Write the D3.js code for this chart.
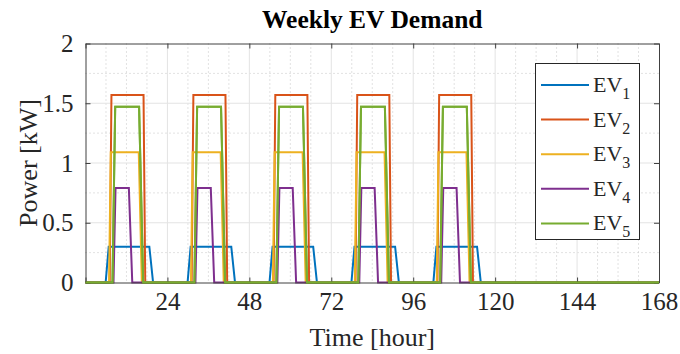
<!DOCTYPE html>
<html lang="en">
<head>
  <meta charset="UTF-8">
  <title>Weekly EV Demand</title>
  <script src="https://d3js.org/d3.v7.min.js"></script>
  <style>
    body { margin: 0; background: #fff; }
    text { font-family: "Liberation Serif", "Times New Roman", serif; fill: #262626; }
  </style>
</head>
<body>
<div class="main"></div>
<script>
  // hours and power [kW] for each EV
  var ev1Time  = [0, 5.9, 6.8, 18.7, 19.8, 29.9, 30.8, 42.7, 43.8, 53.9, 54.8, 66.7, 67.8, 77.9, 78.8, 90.7, 91.8, 101.9, 102.8, 114.7, 115.8, 168];
  var ev1Power = [0, 0, 0.3, 0.3, 0, 0, 0.3, 0.3, 0, 0, 0.3, 0.3, 0, 0, 0.3, 0.3, 0, 0, 0.3, 0.3, 0, 0];
  var ev2Time  = [0, 7.1, 7.6, 17.0, 17.5, 31.1, 31.6, 41.0, 41.5, 55.1, 55.6, 65.0, 65.5, 79.1, 79.6, 89.0, 89.5, 103.1, 103.6, 113.0, 113.5, 168];
  var ev2Power = [0, 0, 1.57, 1.57, 0, 0, 1.57, 1.57, 0, 0, 1.57, 1.57, 0, 0, 1.57, 1.57, 0, 0, 1.57, 1.57, 0, 0];
  var ev3Time  = [0, 6.9, 7.4, 15.6, 16.5, 30.9, 31.4, 39.6, 40.5, 54.9, 55.4, 63.6, 64.5, 78.9, 79.4, 87.6, 88.5, 102.9, 103.4, 111.6, 112.5, 168];
  var ev3Power = [0, 0, 1.09, 1.09, 0, 0, 1.09, 1.09, 0, 0, 1.09, 1.09, 0, 0, 1.09, 1.09, 0, 0, 1.09, 1.09, 0, 0];
  var ev4Time  = [0, 8.2, 8.8, 12.7, 13.7, 32.2, 32.8, 36.7, 37.7, 56.2, 56.8, 60.7, 61.7, 80.2, 80.8, 84.7, 85.7, 104.2, 104.8, 108.7, 109.7, 168];
  var ev4Power = [0, 0, 0.79, 0.79, 0, 0, 0.79, 0.79, 0, 0, 0.79, 0.79, 0, 0, 0.79, 0.79, 0, 0, 0.79, 0.79, 0, 0];
  var ev5Time  = [0, 7.9, 8.7, 15.7, 16.9, 31.9, 32.7, 39.7, 40.9, 55.9, 56.7, 63.7, 64.9, 79.9, 80.7, 87.7, 88.9, 103.9, 104.7, 111.7, 112.9, 168];
  var ev5Power = [0, 0, 1.47, 1.47, 0, 0, 1.47, 1.47, 0, 0, 1.47, 1.47, 0, 0, 1.47, 1.47, 0, 0, 1.47, 1.47, 0, 0];

  var seriesNames = ["1", "2", "3", "4", "5"];
  var colors = ["#0072BD", "#D95319", "#EDB120", "#7E2F8E", "#77AC30"];
  var xTicks = [0, 24, 48, 72, 96, 120, 144, 168];
  var xTickLabels = ["", "24", "48", "72", "96", "120", "144", "168"];
  var xMinor = [6, 12, 18, 30, 36, 42, 54, 60, 66, 78, 84, 90, 102, 108, 114, 126, 132, 138, 150, 156, 162];
  var yTicks = [0, 0.5, 1, 1.5, 2];
  var yTickLabels = ["0", "0.5", "1", "1.5", "2"];
  var yMinor = [0.25, 0.75, 1.25, 1.75];

  var allTimes = [ev1Time, ev2Time, ev3Time, ev4Time, ev5Time];
  var allPower = [ev1Power, ev2Power, ev3Power, ev4Power, ev5Power];

  let width = 680;
  let height = 354;
  let pLeft = 85.5, pRight = 659, pTop = 43.5, pBottom = 282.5;

  let svg = d3.select(".main").append("svg").attr("width", width).attr("height", height).style("display", "block");

  let x = d3.scaleLinear().domain([0, 168]).range([pLeft, pRight]);
  let y = d3.scaleLinear().domain([0, 2]).range([pBottom, pTop]);

  // minor grid (dotted)
  svg.selectAll(".xminor").data(xMinor).enter().append("line")
    .attr("x1", d => x(d)).attr("x2", d => x(d)).attr("y1", pTop).attr("y2", pBottom)
    .style("stroke", "#c4c4c4").style("stroke-width", 1).style("stroke-dasharray", "1,3");
  svg.selectAll(".yminor").data(yMinor).enter().append("line")
    .attr("x1", pLeft).attr("x2", pRight).attr("y1", d => y(d)).attr("y2", d => y(d))
    .style("stroke", "#c4c4c4").style("stroke-width", 1).style("stroke-dasharray", "1,3");

  // major grid
  svg.selectAll(".xgrid").data(xTicks.slice(1, -1)).enter().append("line")
    .attr("x1", d => x(d)).attr("x2", d => x(d)).attr("y1", pTop).attr("y2", pBottom)
    .style("stroke", "#e3e3e3").style("stroke-width", 1);
  svg.selectAll(".ygrid").data(yTicks.slice(1, -1)).enter().append("line")
    .attr("x1", pLeft).attr("x2", pRight).attr("y1", d => y(d)).attr("y2", d => y(d))
    .style("stroke", "#e3e3e3").style("stroke-width", 1);

  // data lines
  let lineGen = d3.line().x(d => x(d[0])).y(d => y(d[1]));
  for (let s = 0; s < 5; s++) {
    let pts = allTimes[s].map((t, i) => [t, allPower[s][i]]);
    svg.append("path").datum(pts).attr("d", lineGen)
      .style("fill", "none").style("stroke", colors[s]).style("stroke-width", 2);
  }

  // axes with inward ticks, box on
  let xAxisB = d3.axisBottom(x).tickValues(xTicks).tickSizeInner(-5).tickSizeOuter(0).tickPadding(10).tickFormat((d, i) => xTickLabels[i]);
  let xAxisT = d3.axisTop(x).tickValues(xTicks).tickSizeInner(-5).tickSizeOuter(0).tickFormat("");
  let yAxisL = d3.axisLeft(y).tickValues(yTicks).tickSizeInner(-5).tickSizeOuter(0).tickPadding(12).tickFormat((d, i) => yTickLabels[i]);
  let yAxisR = d3.axisRight(y).tickValues(yTicks).tickSizeInner(-5).tickSizeOuter(0).tickFormat("");

  let axes = [
    [xAxisB, `translate(0,${pBottom})`],
    [xAxisT, `translate(0,${pTop})`],
    [yAxisL, `translate(${pLeft},0)`],
    [yAxisR, `translate(${pRight},0)`]
  ];
  axes.forEach(function(a) {
    let g = svg.append("g").attr("transform", a[1]).call(a[0]);
    g.select(".domain").style("stroke", "#404040").style("stroke-width", 1);
    g.selectAll(".tick line").style("stroke", "#404040");
    g.selectAll(".tick text").style("font-family", "'Liberation Serif', serif").style("font-size", "25px").style("fill", "#262626");
  });
  // green baseline sits over the bottom axis in the picture
  svg.append("path").datum(ev5Time.map((t, i) => [t, ev5Power[i]])).attr("d", lineGen)
    .style("fill", "none").style("stroke", colors[4]).style("stroke-width", 2);

  // title and labels
  svg.append("text").attr("x", (pLeft + pRight) / 2).attr("y", 28).attr("text-anchor", "middle")
    .style("font-size", "25.5px").style("font-weight", "bold").style("fill", "#000").text("Weekly EV Demand");
  svg.append("text").attr("x", (pLeft + pRight) / 2).attr("y", 346).attr("text-anchor", "middle")
    .style("font-size", "26px").text("Time [hour]");
  svg.append("text").attr("transform", `translate(37,${(pTop + pBottom) / 2}) rotate(-90)`).attr("text-anchor", "middle")
    .style("font-size", "26px").text("Power [kW]");

  // legend
  let lg = svg.append("g");
  lg.append("rect").attr("x", 535.5).attr("y", 63.5).attr("width", 104).attr("height", 176)
    .style("fill", "#fff").style("stroke", "#262626").style("stroke-width", 1);
  seriesNames.forEach(function(n, i) {
    let ly = 85 + i * 34.6;
    lg.append("line").attr("x1", 541).attr("x2", 589).attr("y1", ly).attr("y2", ly)
      .style("stroke", colors[i]).style("stroke-width", 2);
    let t = lg.append("text").attr("x", 593).attr("y", ly + 7).style("font-size", "22px");
    t.append("tspan").text("EV");
    t.append("tspan").attr("dy", 7).style("font-size", "16px").text(n);
  });
</script>
</body>
</html>
